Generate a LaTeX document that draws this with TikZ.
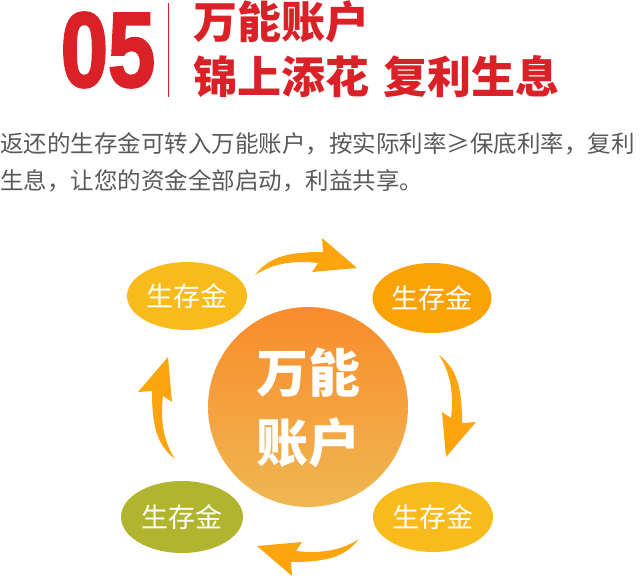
\documentclass[tikz,border=0pt]{standalone}
\usepackage{fontspec}
\setmainfont{Liberation Sans}
\newfontfamily\cjk{Noto Sans CJK SC}
\newfontfamily\numfont[FakeBold=2.5]{Liberation Sans Bold}
\usetikzlibrary{shapes.geometric}
\definecolor{titlered}{HTML}{DA2128}
\definecolor{bodygray}{HTML}{595959}
\definecolor{goldA}{HTML}{F9BA1C}
\definecolor{orangeA}{HTML}{FBA306}
\definecolor{oliveA}{HTML}{B1B42F}
\definecolor{arrowc}{HTML}{FCA50F}
\definecolor{circtop}{HTML}{F98B2B}
\definecolor{circbot}{HTML}{EFB752}
\tikzset{
  savebox/.style={ellipse, inner sep=0pt, text=white, font=\cjk\fontsize{27}{27}\selectfont},
  bodyline/.style={anchor=west, inner sep=0pt, text=bodygray, font=\cjk\fontsize{23.5}{23.5}\selectfont},
  titleline/.style={anchor=west, inner sep=0pt, text=titlered, font=\cjk\bfseries\fontsize{44}{44}\selectfont},
  bigtext/.style={inner sep=0pt, text=white, font=\cjk\bfseries\fontsize{52}{52}\selectfont},
  curvearrow/.style={fill=arrowc, draw=none}
}
\begin{document}
\begin{tikzpicture}[x=1pt,y=-1pt]
\useasboundingbox (0,0) rectangle (640,577);
% header
\node[inner sep=0pt, text=titlered] (num) at (108,50) {\scalebox{0.8}[1]{\numfont\fontsize{106}{106}\selectfont 05}};
\coordinate (ltop) at (168,3);
\coordinate (lbot) at (168,97);
\draw[titlered, line width=1pt] (ltop) -- (lbot);
\node[titleline] (t1) at (193,22) {万能账户};
\node[titleline] (t2a) at (193,77) {锦上添花};
\node[titleline] (t2b) at (383,77) {复利生息};
% paragraph
\node[bodyline] (p1) at (0,144) {返还的生存金可转入万能账户，按实际利率≥保底利率，复利};
\node[bodyline] (p2) at (0,181) {生息，让您的资金全部启动，利益共享。};
% arrows
\foreach \k in {0,1,2,3}{
  \begin{scope}[shift={(307,407)}, rotate=-90*\k]
    \fill[curvearrow] (-52,-132) .. controls (-38,-150) and (-20,-155) .. (16,-155)
      -- (15,-169) -- (50,-139) -- (5,-135) -- (11,-144)
      .. controls (-15,-147) and (-35,-143) .. (-52,-132) -- cycle;
  \end{scope}
}
% centre circle
\shade[top color=circtop, bottom color=circbot] (308,407) circle[radius=100];
\node[bigtext] (c1) at (308,373) {万能};
\node[bigtext] (c2) at (308,443) {账户};
% ellipses
\node[savebox, fill=goldA, minimum width=120pt, minimum height=68pt] (tl) at (187,296) {生存金};
\node[savebox, fill=orangeA, minimum width=119pt, minimum height=70pt] (tr) at (432,298) {生存金};
\node[savebox, fill=goldA, minimum width=120pt, minimum height=70pt] (br) at (433,517) {生存金};
\node[savebox, fill=oliveA, minimum width=122pt, minimum height=72pt] (bl) at (182,517) {生存金};
\end{tikzpicture}
\end{document}
